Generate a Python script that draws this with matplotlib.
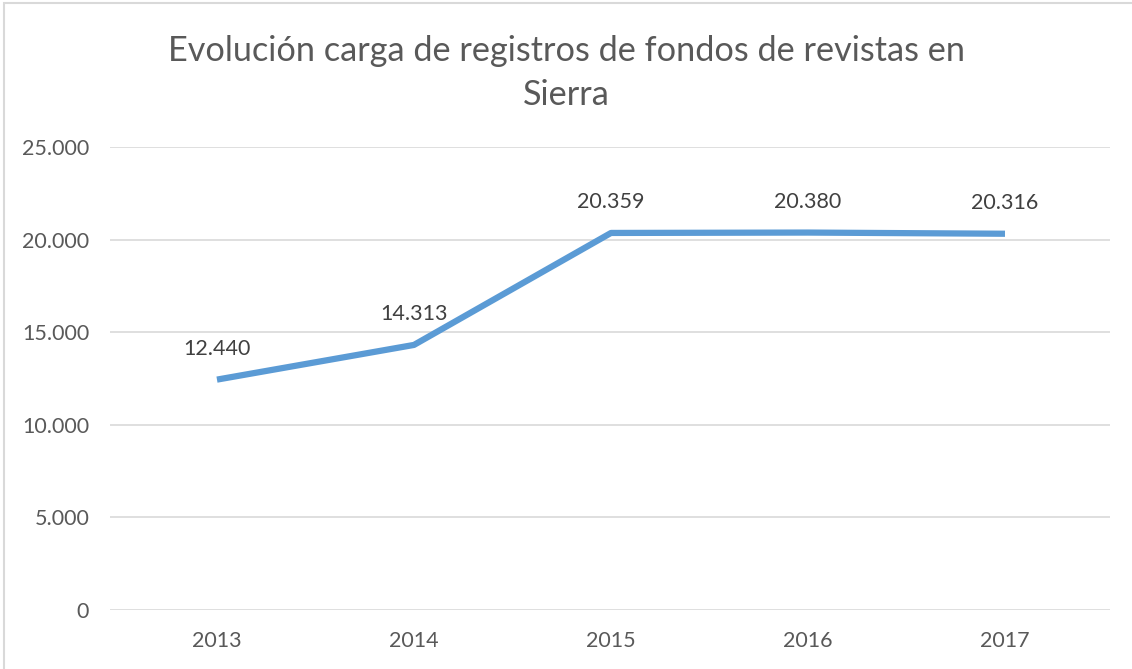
import matplotlib
matplotlib.use("Agg")
import matplotlib.pyplot as plt
from matplotlib.ticker import FuncFormatter, MultipleLocator
from matplotlib.patches import Rectangle

years = ["2013", "2014", "2015", "2016", "2017"]
values = [12440, 14313, 20359, 20380, 20316]
title = "Evolución carga de registros de fondos de revistas en\nSierra"

W, H = 1132, 669
fig = plt.figure(figsize=(W / 100, H / 100), dpi=100)
plt.rcParams['font.family'] = ['Lato', 'DejaVu Sans']

# chart frame
fig.patches.append(Rectangle((4 / W, -0.01), 1.2, (H - 3) / H + 0.01, transform=fig.transFigure,
                             fill=False, edgecolor="#d9d9d9", linewidth=1.5))

left, right = 110 / W, 1110 / W
top, bottom = 1 - 147 / H, 1 - 610 / H
ax = fig.add_axes([left, bottom, right - left, top - bottom])

x = list(range(len(years)))
ax.plot(x, values, color="#5B9BD5", linewidth=4.5, solid_capstyle="butt", zorder=3)
for xi, v in zip(x, values):
    ax.annotate(f"{v:,}".replace(",", "."), (xi, v), xytext=(0, 22), textcoords="offset points",
                ha="center", va="center", fontsize=15.5, color="#404040")

ax.set_ylim(0, 25000)
ax.set_xlim(-0.543, 4.533)
ax.yaxis.set_major_locator(MultipleLocator(5000))
ax.yaxis.set_major_formatter(FuncFormatter(lambda v, p: f"{int(v):,}".replace(",", ".")))
ax.set_xticks(x)
ax.set_xticklabels(years)
ax.grid(axis="y", color="#d9d9d9", linewidth=1.2)
ax.set_axisbelow(True)
for s in ax.spines.values():
    s.set_visible(False)
ax.tick_params(length=0, labelsize=15.5, colors="#595959")
ax.tick_params(axis="y", pad=15)
ax.tick_params(axis="x", pad=15)

fig.text(0.5, 1 - 73 / H, title, ha="center", va="center", fontsize=24.7, color="#595959",
         linespacing=1.45)

fig.savefig("out.png", dpi=100, facecolor="white")
